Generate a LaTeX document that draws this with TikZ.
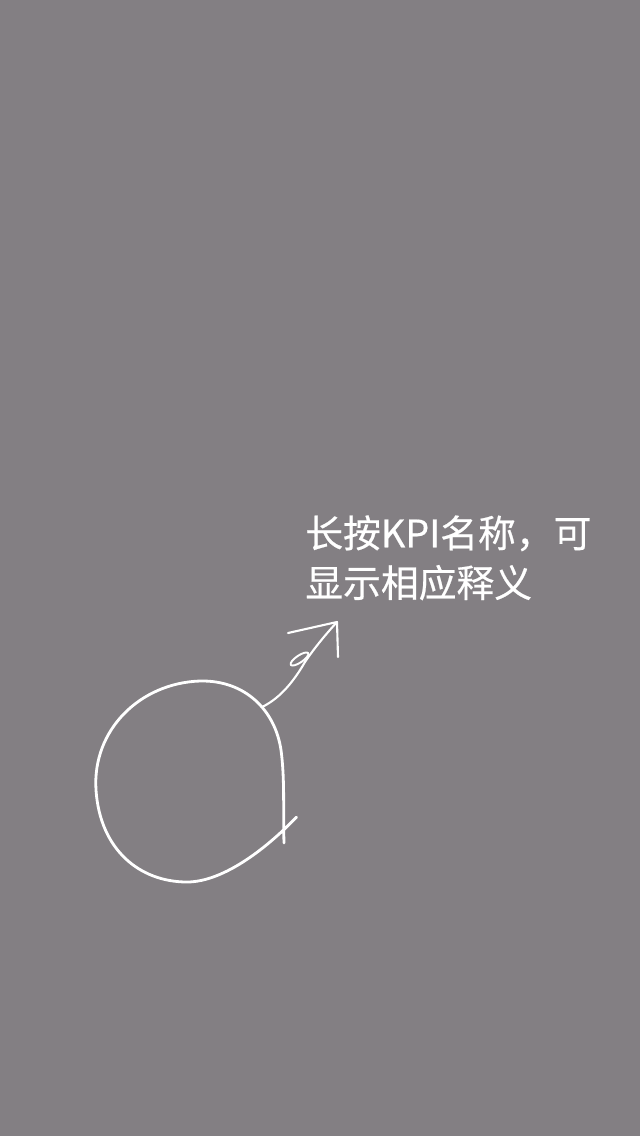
\documentclass[tikz,border=0pt]{standalone}
\usepackage{fontspec}
\newfontfamily\cjkfont[FakeBold=0.5]{Noto Sans CJK SC}
\definecolor{slate}{RGB}{131,127,131}

\begin{document}
\begin{tikzpicture}[scale=0.2]
          \tikzstyle{every node}+=[inner sep=0pt]
          \tikzstyle{chalk}=[white, line width=1.6pt, line cap=round, line join=round]
          \fill [slate] (0,0) rectangle (64,-113.6);
          \draw (30.5,-51.5) node [anchor=north west, align=left, text=white, font=\cjkfont\fontsize{21.5}{28.3}\selectfont] (hint) {长按KPI名称，可\\显示相应释义};
          \coordinate (root) at (26.27,-70.67);
          \coordinate (tip) at (33.7,-62.2);
          \draw [chalk] (29.65,-81.7) .. controls (27.0,-84.5) and (22.5,-88.2) .. (18.7,-88.2)
               .. controls (14.0,-88.2) and (10.0,-85.0) .. (9.6,-79.0)
               .. controls (9.2,-73.0) and (14.0,-68.3) .. (20.0,-68.1)
               .. controls (24.5,-68.0) and (27.5,-71.0) .. (28.1,-75.0)
               .. controls (28.5,-78.0) and (28.3,-81.0) .. (28.4,-84.3);
          \draw [chalk, line width=1.2pt] (root) .. controls (28.2,-69.7) and (29.5,-67.9) .. (30.5,-66.2)
               .. controls (31.5,-64.7) and (32.7,-63.3) .. (tip);
          \draw [chalk, line width=1.1pt, rotate around={34:(29.95,-65.9)}] (29.95,-65.9) ellipse (1.05 and 0.35);
          \draw [chalk, line width=1.2pt] (28.8,-63.3) -- (tip) -- (33.8,-65.7);
     \end{tikzpicture}
\end{document}
